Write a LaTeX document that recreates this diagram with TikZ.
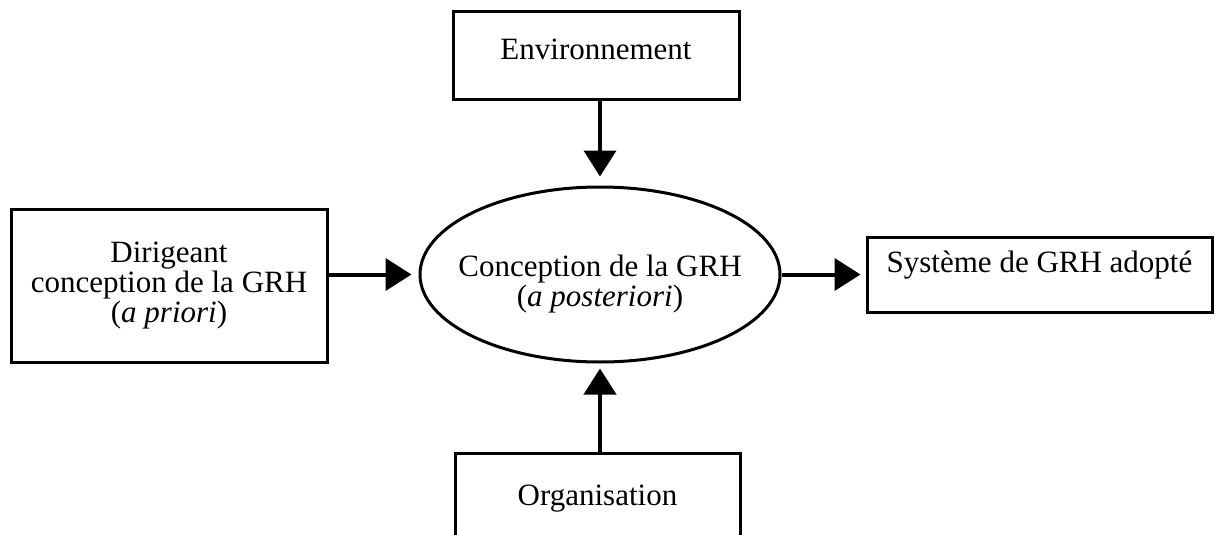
\documentclass[tikz,border=0pt]{standalone}
\usepackage{fontspec}
\setmainfont{Liberation Serif}
\usetikzlibrary{shapes.geometric}
\usetikzlibrary{arrows.meta}

\begin{document}
\begin{tikzpicture}[x=0.5pt, y=-0.5pt,
    every node/.style={font=\fontsize{15.5}{15}\selectfont, align=center},
    box/.style={draw, line width=1.5pt, inner sep=0pt},
    flow/.style={line width=2pt, -{Triangle[width=16pt, length=13pt]}}]

\useasboundingbox (0,0) rectangle (1215,535);

% --- CENTRE ---
\node[draw, ellipse, line width=1.5pt, inner xsep=-30pt, inner ysep=0pt,
      minimum width=180pt, minimum height=87.5pt, text height=35.5pt] (ell) at (600,274.5)
    {Conception de la GRH\\(\textit{a posteriori})};

% --- SURROUNDING BOXES ---
\node[box, minimum width=143pt, minimum height=44pt, text depth=7pt] (env) at (596,56)
    {Environnement};
\node[box, minimum width=158pt, minimum height=76.5pt] (dir) at (169,285.5)
    {Dirigeant\\conception de la GRH\\(\textit{a priori})};
\node[box, minimum width=172.5pt, minimum height=37.5pt, text depth=12.5pt] (sys) at (1039.5,274.5)
    {Système de GRH adopté};
\node[box, minimum width=142.5pt, minimum height=49pt, text depth=7pt] (org) at (597.5,502)
    {Organisation};

% --- ARROWS ---
\draw[flow, shorten >=4.5pt] (ell.north |- env.south) -- (ell.north);
\draw[flow, shorten >=2.5pt] (org.north -| ell.south) -- (ell.south);
\draw[flow, shorten >=3.5pt] (dir.east |- ell.west) -- (ell.west);
\draw[flow, shorten >=2.5pt] (ell.east) -- (sys.west |- ell.east);

\end{tikzpicture}
\end{document}
